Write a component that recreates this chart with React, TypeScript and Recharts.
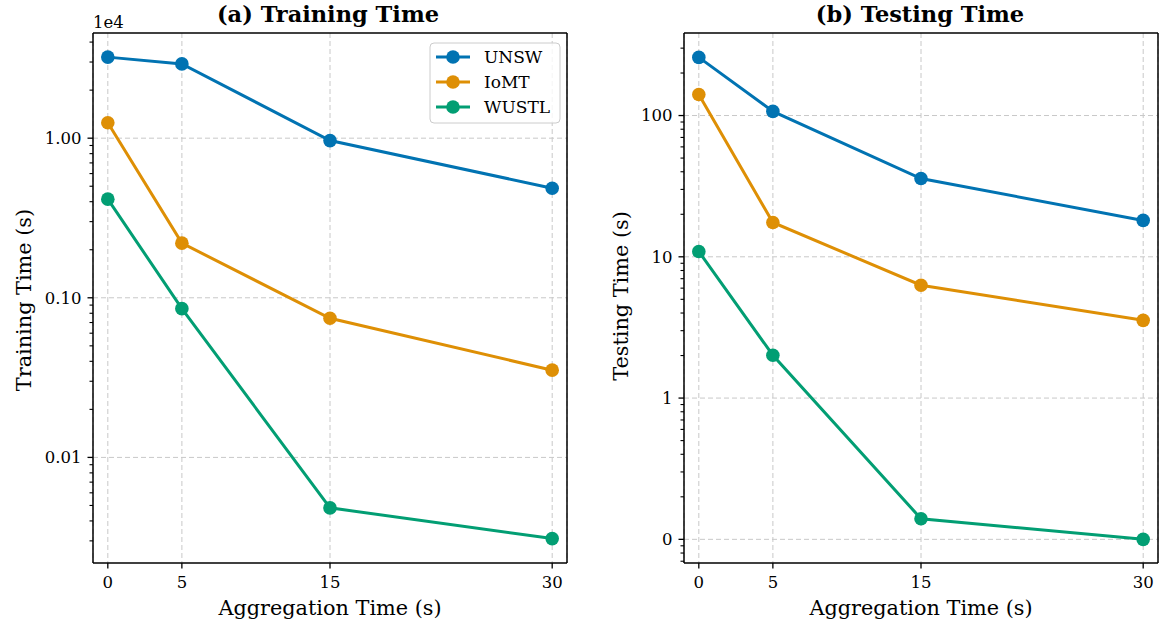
import {
  LineChart,
  Line,
  XAxis,
  YAxis,
  CartesianGrid,
  ReferenceLine,
} from "recharts";

const X_VALUES = [0, 5, 15, 30];
const X_TICKS = [0, 5, 15, 30];
const X_DOMAIN = [-1, 31];

const SERIES = ["UNSW", "IoMT", "WUSTL"];
const COLORS = ["#0173b2", "#de8f05", "#029e73"];

// training time in seconds (axis shows x1e4)
const TRAIN_UNSW = [32200, 29200, 9660, 4860];
const TRAIN_IOMT = [12500, 2200, 744, 352];
const TRAIN_WUSTL = [4150, 855, 48.3, 31];

// testing time in seconds
const TEST_UNSW = [258, 107, 35.8, 18.1];
const TEST_IOMT = [141, 17.5, 6.29, 3.55];
const TEST_WUSTL = [10.9, 2.01, 0.14, 0.1];

const TRAIN_MAJOR = [100, 1000, 10000];
const TRAIN_MINOR = [
  30, 40, 50, 60, 70, 80, 90, 200, 300, 400, 500, 600, 700, 800, 900, 2000,
  3000, 4000, 5000, 6000, 7000, 8000, 9000, 20000, 30000, 40000,
];
const TRAIN_DOMAIN = [21.8, 45600];

const TEST_MAJOR = [0.1, 1, 10, 100];
const TEST_MINOR = [
  0.07, 0.08, 0.09, 0.2, 0.3, 0.4, 0.5, 0.6, 0.7, 0.8, 0.9, 2, 3, 4, 5, 6, 7,
  8, 9, 20, 30, 40, 50, 60, 70, 80, 90, 200, 300,
];
const TEST_DOMAIN = [0.068, 384];

const FONT = "'DejaVu Serif', serif";
const TICK_SIZE = 5.5;
const TICK_MARGIN = 6;
const TICK_FONT = 16.5;
const GRID = "#c8c8c8";

function buildRows(a: number[], b: number[], c: number[]) {
  return X_VALUES.map((x, i) => ({ x, UNSW: a[i], IoMT: b[i], WUSTL: c[i] }));
}

const trainRows = buildRows(TRAIN_UNSW, TRAIN_IOMT, TRAIN_WUSTL);
const testRows = buildRows(TEST_UNSW, TEST_IOMT, TEST_WUSTL);

function makeYTick(majors: number[], fmt: (v: number) => string) {
  return (props: any) => {
    const { x, y, payload } = props;
    const v = payload.value;
    const major = majors.includes(v);
    const axisX = x + TICK_MARGIN + TICK_SIZE;
    const len = major ? TICK_SIZE : 3.5;
    return (
      <g>
        <line
          x1={axisX - len}
          x2={axisX}
          y1={y}
          y2={y}
          stroke="#000"
          strokeWidth={major ? 1.3 : 1.1}
        />
        {major && (
          <text
            x={x}
            y={y}
            dy="0.36em"
            textAnchor="end"
            fontSize={TICK_FONT}
            fontFamily={FONT}
            fill="#000"
          >
            {fmt(v)}
          </text>
        )}
      </g>
    );
  };
}

function Panel(props: {
  rows: any[];
  domain: number[];
  majors: number[];
  minors: number[];
  fmt: (v: number) => string;
  left: number;
  width: number;
  yWidth: number;
  right: number;
}) {
  const { rows, domain, majors, minors, fmt, left, width, yWidth, right } = props;
  const allTicks = [...majors, ...minors].sort((a, b) => a - b);
  return (
    <div style={{ position: "absolute", left, top: 0 }}>
      <LineChart
        width={width}
        height={625}
        data={rows}
        margin={{ top: 33, right, left: 0, bottom: 0 }}
      >
        <CartesianGrid stroke={GRID} strokeDasharray="5 3" horizontal={false} />
        {majors.map((t) => (
          <ReferenceLine
            key={t}
            y={t}
            stroke={GRID}
            strokeDasharray="5 3"
            strokeWidth={1}
          />
        ))}
        <XAxis
          dataKey="x"
          type="number"
          domain={X_DOMAIN}
          ticks={X_TICKS}
          allowDataOverflow
          height={62}
          tickSize={TICK_SIZE}
          tickMargin={8}
          interval={0}
          axisLine={{ stroke: "#000", strokeWidth: 1.5 }}
          tickLine={{ stroke: "#000", strokeWidth: 1.3 }}
          tick={{ fill: "#000", fontSize: TICK_FONT, fontFamily: FONT }}
        />
        <YAxis
          type="number"
          scale="log"
          domain={domain}
          allowDataOverflow
          ticks={allTicks}
          interval={0}
          width={yWidth}
          tickSize={TICK_SIZE}
          tickMargin={TICK_MARGIN}
          tickLine={false}
          axisLine={{ stroke: "#000", strokeWidth: 1.5 }}
          tick={makeYTick(majors, fmt)}
        />
        {SERIES.map((s, i) => (
          <Line
            key={s}
            dataKey={s}
            stroke={COLORS[i]}
            strokeWidth={3}
            dot={{ r: 6.8, fill: COLORS[i], stroke: COLORS[i], strokeWidth: 0 }}
            isAnimationActive={false}
          />
        ))}
        {/* top and right spines */}
        <ReferenceLine y={domain[1]} stroke="#000" strokeWidth={1.5} />
        <ReferenceLine x={X_DOMAIN[1]} stroke="#000" strokeWidth={1.5} />
      </LineChart>
    </div>
  );
}

function Overlay() {
  const lx = 430;
  const ly = 43;
  return (
    <svg
      width={1161}
      height={625}
      style={{ position: "absolute", left: 0, top: 0, pointerEvents: "none" }}
      fontFamily={FONT}
    >
      <text x={328} y={21.5} textAnchor="middle" fontSize={22.5} fontWeight="bold">
        (a) Training Time
      </text>
      <text x={920} y={21.5} textAnchor="middle" fontSize={22.5} fontWeight="bold">
        (b) Testing Time
      </text>
      <text x={93} y={28} fontSize={TICK_FONT}>
        1e4
      </text>
      <text x={330} y={615} textAnchor="middle" fontSize={20.8}>
        Aggregation Time (s)
      </text>
      <text x={921} y={615} textAnchor="middle" fontSize={20.8}>
        Aggregation Time (s)
      </text>
      <text
        transform="translate(24,300) rotate(-90)"
        textAnchor="middle"
        dominantBaseline="central"
        fontSize={20.8}
      >
        Training Time (s)
      </text>
      <text
        transform="translate(621,296) rotate(-90)"
        textAnchor="middle"
        dominantBaseline="central"
        fontSize={20.8}
      >
        Testing Time (s)
      </text>
      <rect
        x={lx}
        y={ly}
        width={130}
        height={80}
        rx={4}
        fill="rgba(255,255,255,0.8)"
        stroke="#cccccc"
        strokeWidth={1}
      />
      {SERIES.map((s, i) => {
        const cy = ly + 14 + i * 25;
        return (
          <g key={s}>
            <line x1={lx + 6} x2={lx + 40} y1={cy} y2={cy} stroke={COLORS[i]} strokeWidth={3} />
            <circle cx={lx + 23} cy={cy} r={6.8} fill={COLORS[i]} />
            <text x={lx + 54} y={cy} dy="0.36em" fontSize={17}>
              {s}
            </text>
          </g>
        );
      })}
    </svg>
  );
}

export default function App() {
  return (
    <div
      style={{
        position: "absolute",
        left: 0,
        top: 0,
        width: 1161,
        height: 625,
        background: "#fff",
      }}
    >
      <Panel
        rows={trainRows}
        domain={TRAIN_DOMAIN}
        majors={TRAIN_MAJOR}
        minors={TRAIN_MINOR}
        fmt={(v) => (v / 1e4).toFixed(2)}
        left={0}
        width={580}
        yWidth={93}
        right={13}
      />
      <Panel
        rows={testRows}
        domain={TEST_DOMAIN}
        majors={TEST_MAJOR}
        minors={TEST_MINOR}
        fmt={(v) => v.toFixed(0)}
        left={580}
        width={581}
        yWidth={104}
        right={3}
      />
      <Overlay />
    </div>
  );
}
